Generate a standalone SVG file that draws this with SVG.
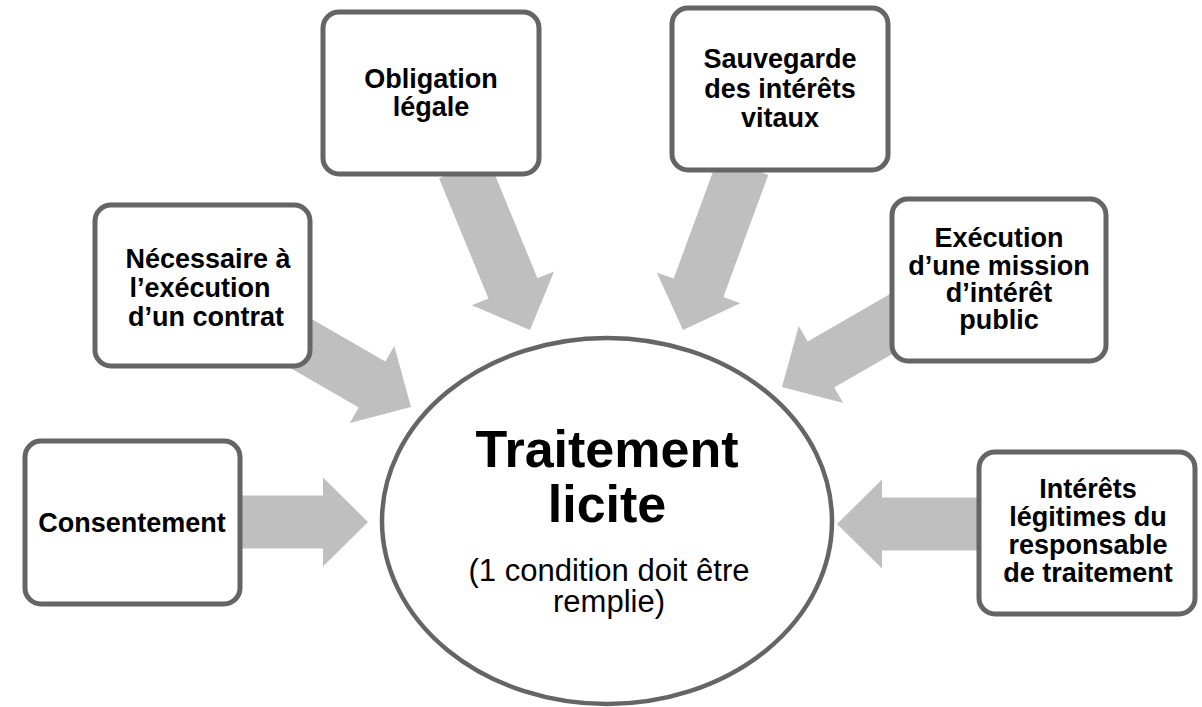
<svg xmlns="http://www.w3.org/2000/svg" width="1202" height="707" viewBox="0 0 1202 707">
<style>
.box{fill:#fff;stroke:#656565;stroke-width:5}
.arr{fill:#bfbfbf}
.t{font-family:"Liberation Sans",Arial,sans-serif;font-weight:bold;font-size:27px;fill:#000;text-anchor:middle}
.big{font-family:"Liberation Sans",Arial,sans-serif;font-weight:bold;font-size:52px;fill:#000;text-anchor:middle}
.sub{font-family:"Liberation Sans",Arial,sans-serif;font-size:31px;fill:#000;text-anchor:middle}
</style>
<defs>
<polygon id="a150" points="-150,-26.5 -45,-26.5 -45,-44.5 0,0 -45,44.5 -45,26.5 -150,26.5"/>
<polygon id="a175" points="-175,-26.5 -45,-26.5 -45,-44.5 0,0 -45,44.5 -45,26.5 -175,26.5"/>
</defs>
<rect width="1202" height="707" fill="#fff"/>
<g id="connectors">
<use href="#a150" class="arr" transform="translate(368,522)"/>
<use href="#a175" class="arr" transform="translate(411,407) rotate(30)"/>
<use href="#a175" class="arr" transform="translate(530,330) rotate(67.7)"/>
<use href="#a175" class="arr" transform="translate(683,330) rotate(110.2)"/>
<use href="#a175" class="arr" transform="translate(782,387) rotate(150)"/>
<use href="#a150" class="arr" transform="translate(837,524) rotate(180)"/>
</g>
<g id="center">
<ellipse cx="607" cy="521" rx="225" ry="183" fill="#fff" stroke="#656565" stroke-width="4.5"/>
<text class="big" x="607" y="467">Traitement</text>
<text class="big" x="607" y="522">licite</text>
<text class="sub" x="609" y="581">(1 condition doit être</text>
<text class="sub" x="609" y="612">remplie)</text>
</g>
<g id="consentement">
<rect class="box" x="25" y="441" width="215" height="163" rx="16"/>
<text class="t" x="132" y="532">Consentement</text>
</g>
<g id="contrat">
<rect class="box" x="95" y="205" width="215" height="161" rx="16"/>
<text class="t" x="208" y="268">Nécessaire à</text>
<text class="t" x="200" y="297">l’exécution</text>
<text class="t" x="206" y="326">d’un contrat</text>
</g>
<g id="obligation">
<rect class="box" x="323" y="12" width="216" height="162" rx="16"/>
<text class="t" x="431" y="88">Obligation</text>
<text class="t" x="431" y="116">légale</text>
</g>
<g id="sauvegarde">
<rect class="box" x="672" y="8" width="216" height="162" rx="16"/>
<text class="t" x="780" y="68">Sauvegarde</text>
<text class="t" x="780" y="97.5">des intérêts</text>
<text class="t" x="780" y="127">vitaux</text>
</g>
<g id="mission">
<rect class="box" x="892" y="199" width="214" height="162" rx="16"/>
<text class="t" x="999" y="247">Exécution</text>
<text class="t" x="999" y="275">d’une mission</text>
<text class="t" x="999" y="302">d’intérêt</text>
<text class="t" x="999" y="329">public</text>
</g>
<g id="interets">
<rect class="box" x="979" y="452" width="216" height="162" rx="16"/>
<text class="t" x="1088" y="498">Intérêts</text>
<text class="t" x="1088" y="526">légitimes du</text>
<text class="t" x="1088" y="554">responsable</text>
<text class="t" x="1088" y="582">de traitement</text>
</g>
</svg>
